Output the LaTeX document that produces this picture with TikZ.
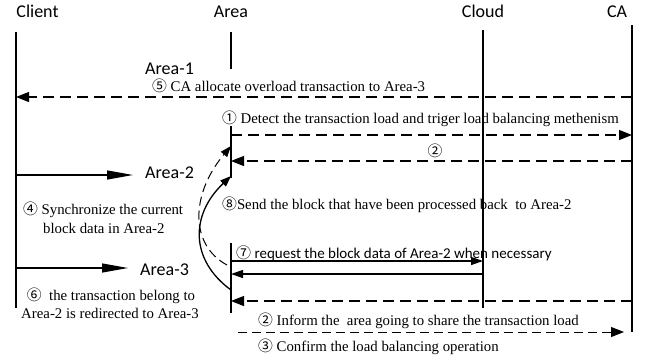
\documentclass[tikz,border=0pt]{standalone}
\usepackage{fontspec}
\setmainfont{Liberation Serif}
\newfontfamily\labelfont{Carlito}
\newfontfamily\cjk{Noto Sans CJK SC}
\usetikzlibrary{arrows.meta}
\newcommand{\cnum}[1]{{\cjk #1}}

\begin{document}
\begin{tikzpicture}[
    x=1pt, y=-1pt,
    every node/.style={font=\fontsize{14.8}{18}\selectfont, inner sep=0pt},
    head/.style={font=\labelfont\fontsize{18}{20}\selectfont},
    sanstext/.style={font=\labelfont\fontsize{15}{18}\selectfont},
    lifeline/.style={line width=1.1pt},
    solidmsg/.style={line width=1.3pt},
    dashmsg/.style={line width=1.1pt, dash pattern=on 11pt off 6pt},
    finemsg/.style={line width=1pt, dash pattern=on 9pt off 5pt},
    bigtip/.style={-{Triangle[length=13pt,width=10pt]}},
    longtip/.style={-{Triangle[length=26pt,width=9pt]}},
    smalltip/.style={-{Triangle[length=12pt,width=8pt]}},
]
\useasboundingbox (0,0) rectangle (647,360);

% Headers
\node[head, anchor=base] (client) at (37.5,17) {Client};
\node[head, anchor=base] (area)   at (231,17)  {Area};
\node[head, anchor=base] (cloud)  at (483,17)  {Cloud};
\node[head, anchor=base] (ca)     at (617,17)  {CA};

% Lifelines
\coordinate (client top) at (16,32);  \coordinate (client bot) at (16,308);
\coordinate (cloud top) at (483,30);  \coordinate (cloud bot) at (483,308);
\coordinate (ca top) at (632,25);     \coordinate (ca bot) at (632,332);
\coordinate (a1 top) at (231,32);     \coordinate (a1 bot) at (231,69);
\coordinate (a2 top) at (231,126);    \coordinate (a2 bot) at (231,178);
\coordinate (a3 top) at (231,243);    \coordinate (a3 bot) at (231,313);
\draw[lifeline] (client top) -- (client bot);
\draw[lifeline] (cloud top) -- (cloud bot);
\draw[lifeline] (ca top) -- (ca bot);
\draw[lifeline] (a1 top) -- (a1 bot);
\draw[lifeline] (a2 top) -- (a2 bot);
\draw[lifeline] (a3 top) -- (a3 bot);

% Area labels
\node[head, anchor=base west] (area1) at (145,74)  {Area-1};
\node[head, anchor=base west] (area2) at (145,178) {Area-2};
\node[head, anchor=base west] (area3) at (140,275) {Area-3};

% Step 5: CA -> Client
\coordinate (ca5) at (632,97);  \coordinate (cl5) at (16,97);
\draw[dashmsg, bigtip] (ca5) -- (cl5);
\node[anchor=base west] (t5) at (152,91) {\cnum{⑤} CA allocate overload transaction to Area-3};

% Step 1: Area -> CA
\coordinate (ar1) at (231,135);  \coordinate (ca1) at (632,135);
\draw[dashmsg, bigtip] (ar1) -- (ca1);
\node[anchor=base west] (t1) at (222,123) {\cnum{①} Detect the transaction load and triger load balancing methenism};

% Step 2: CA -> Area
\coordinate (ca2) at (632,161);  \coordinate (ar2) at (231,161);
\draw[dashmsg, bigtip] (ca2) -- (ar2);
\node (t2) at (435,151) {\cnum{②}};

% Client -> Area-2
\coordinate (cl a2) at (16,175);
\draw[solidmsg, longtip] (cl a2) -- (133,175) coordinate (a2 in);

% Step 4 text
\node[anchor=base west] (t4a) at (23,214) {\cnum{④} Synchronize the current};
\node[anchor=base west] (t4b) at (43,233) {block data in Area-2};

% Step 8 text
\node[anchor=base west] (t8) at (222,209) {\cnum{⑧}Send the block that have been processed back\ \ to Area-2};

% Curved arrows into Area-2
\coordinate (c1 start) at (227,265);  \coordinate (c1 end) at (231,146);
\coordinate (c2 start) at (231,290);  \coordinate (c2 end) at (231,176);
\draw[finemsg, -{Triangle[length=11pt,width=8pt]}] (c1 start) .. controls (190,245) and (190,195) .. (c1 end);
\draw[solidmsg, -{Triangle[length=11pt,width=8pt]}] (c2 start) .. controls (190,260) and (190,215) .. (c2 end);

% Step 7: Area <-> Cloud
\coordinate (ar7) at (231,261);  \coordinate (cd7) at (483,261);
\coordinate (cd7b) at (483,274); \coordinate (ar7b) at (231,274);
\draw[solidmsg, smalltip] (ar7) -- (cd7);
\draw[solidmsg, smalltip] (cd7b) -- (ar7b);
\node[sanstext, anchor=base west] (t7) at (236,258) {\cnum{⑦} request the block data of Area-2 when necessary};

% Client -> Area-3
\coordinate (cl a3) at (16,268);
\draw[solidmsg, longtip] (cl a3) -- (128,268) coordinate (a3 in);

% Step 6 text
\node[anchor=base] (t6a) at (111,300) {\cnum{⑥}\ \ the transaction belong to};
\node[anchor=base] (t6b) at (110,318) {Area-2 is redirected to Area-3};

% CA -> Area-3
\coordinate (ca6) at (632,301);  \coordinate (ar6) at (231,301);
\draw[dashmsg, bigtip] (ca6) -- (ar6);
\node[anchor=base west] (t2b) at (258,325) {\cnum{②} Inform the\ \ area going to share the transaction load};

% Step 3: Area -> CA
\coordinate (ar3) at (238,332);  \coordinate (ca3) at (624,332);
\draw[finemsg, bigtip] (ar3) -- (ca3);
\node[anchor=base west] (t3) at (258,351) {\cnum{③} Confirm the load balancing operation};

\end{tikzpicture}
\end{document}
